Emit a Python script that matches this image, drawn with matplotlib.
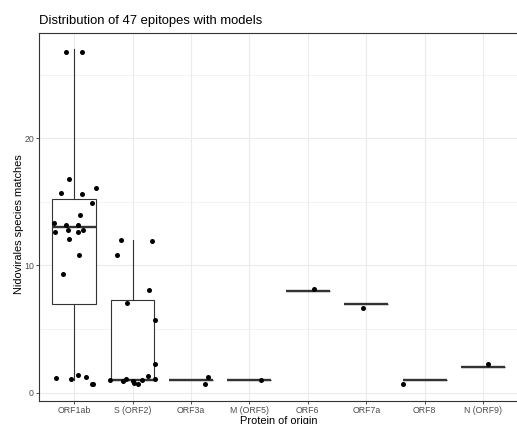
import matplotlib.pyplot as plt
from matplotlib.ticker import MultipleLocator
import numpy as np

plt.rcParams['font.family'] = ['Liberation Sans', 'DejaVu Sans']

proteins = ['ORF1ab', 'S (ORF2)', 'ORF3a', 'M (ORF5)', 'ORF6', 'ORF7a', 'ORF8', 'N (ORF9)']

# jittered y values as they appear, and horizontal jitter (fraction of category spacing)
y_orf1ab = [26.8, 26.8, 16.8, 15.7, 15.65, 16.1, 14.9, 14.0, 13.36, 13.2, 13.2, 12.6,
            12.8, 12.6, 12.76, 12.1, 10.85, 9.3, 1.15, 1.07, 1.4, 1.25, 0.68, 0.68]
dx_orf1ab = [-0.13, 0.14, -0.09, -0.23, 0.13, 0.38, 0.31, 0.10, -0.34, -0.13, 0.06, -0.32,
             -0.11, 0.06, 0.15, -0.09, 0.08, -0.19, -0.31, -0.06, 0.06, 0.21, 0.30, 0.32]
y_s = [12.0, 10.8, 11.9, 8.08, 7.03, 5.7, 2.25, 1.0, 0.92, 1.07, 0.94, 0.76, 0.68, 1.0, 1.28, 1.1]
dx_s = [-0.19, -0.26, 0.34, 0.28, -0.09, 0.39, 0.39, -0.39, -0.17, -0.11, 0.0, 0.02, 0.10, 0.17, 0.26, 0.39]
y_orf3a = [0.68, 1.23]
dx_orf3a = [0.24, 0.30]
y_m = [1.0]
dx_m = [0.19]
y_orf6 = [8.13]
dx_orf6 = [0.11]
y_orf7a = [6.64]
dx_orf7a = [-0.06]
y_orf8 = [0.65]
dx_orf8 = [-0.37]
y_n = [2.27]
dx_n = [0.09]

ys = [y_orf1ab, y_s, y_orf3a, y_m, y_orf6, y_orf7a, y_orf8, y_n]
dxs = [dx_orf1ab, dx_s, dx_orf3a, dx_m, dx_orf6, dx_orf7a, dx_orf8, dx_n]

fig = plt.figure(figsize=(5.17, 4.24), dpi=100)
ax = fig.add_axes([39 / 517, 1 - 401 / 424, 0.927, 368.5 / 424])

pos = np.arange(1, len(proteins) + 1)
# counts are integers; jitter added a bit of height, so round back for the boxes
counts = [np.round(v) for v in ys]
line = dict(color='#333333', linewidth=0.8)
ax.boxplot(counts, positions=pos, widths=0.75, showcaps=False, showfliers=False,
           patch_artist=True,
           boxprops=dict(facecolor='white', edgecolor='#333333', linewidth=0.8),
           whiskerprops=line,
           medianprops=dict(color='#333333', linewidth=1.7),
           zorder=2)

for p, v, d in zip(pos, ys, dxs):
    ax.scatter(p + np.array(d), v, s=13, color='black', zorder=3, linewidths=0)

ax.set_xlim(0.4, 8.6)
ax.set_ylim(-0.65, 28.3)
ax.set_xticks(pos)
ax.set_xticklabels(proteins)
ax.yaxis.set_major_locator(MultipleLocator(10))
ax.yaxis.set_minor_locator(MultipleLocator(5))
ax.grid(which='major', color='#EBEBEB', linewidth=0.8, zorder=0)
ax.grid(which='minor', axis='y', color='#EBEBEB', linewidth=0.4, zorder=0)
ax.set_axisbelow(True)
ax.tick_params(which='major', length=2.2, width=0.6, color='#333333',
               labelsize=6.3, labelcolor='#4D4D4D', pad=1.5)
ax.tick_params(which='minor', length=0)
for sp in ax.spines.values():
    sp.set_color('#333333')
    sp.set_linewidth(0.8)

ax.set_xlabel('Protein of origin', fontsize=7.9, labelpad=0.5)
ax.set_ylabel('Nidovirales species matches', fontsize=7.9)
ax.yaxis.set_label_coords(-0.032, 0.48)
ax.set_title('Distribution of 47 epitopes with models', fontsize=9.4, loc='left', pad=6)

fig.savefig('out.png', dpi=100)
